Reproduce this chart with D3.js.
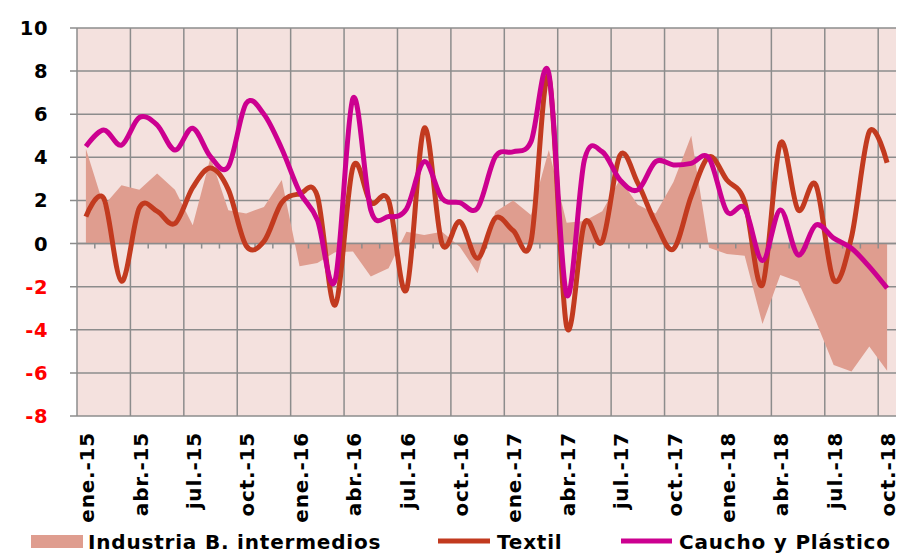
<!DOCTYPE html>
<html>
<head>
<meta charset="utf-8">
<script src="https://cdn.jsdelivr.net/npm/d3@7"></script>
<style>
    body { margin: 0; background: #ffffff; }
    svg text { font-family: "DejaVu Sans", Verdana, sans-serif; font-weight: bold; }
</style>
</head>
<body>
<svg id="chart" width="908" height="555"></svg>
<script>

let month_names = ["ene", "feb", "mar", "abr", "may", "jun", "jul", "ago", "sep", "oct", "nov", "dic"]
let years = ["15", "16", "17", "18"]
let month_count = 46

let industria = [4.4, 1.75, 2.7, 2.5, 3.25, 2.5, 0.85, 4.0, 1.55, 1.4, 1.7, 2.95,
    -1.05, -0.9, -0.4, -0.37, -1.53, -1.15, 0.55, 0.4, 0.55, -0.15, -1.38, 1.48,
    2.0, 1.33, 4.34, 0.96, 1.05, 1.5, 3.0, 1.8, 1.4, 2.85, 5.0, -0.2,
    -0.48, -0.57, -3.73, -1.46, -1.76, -3.6, -5.63, -5.94, -4.78, -5.9]

let textil = [1.25, 2.1, -1.75, 1.65, 1.5, 0.93, 2.6, 3.5, 2.5, -0.1, 0.1, 1.9,
    2.3, 2.2, -2.85, 3.55, 1.9, 2.0, -2.15, 5.35, 0.0, 1.02, -0.68, 1.19,
    0.6, 0.1, 7.74, -3.85, 0.94, 0.09, 4.1, 2.8, 0.95, -0.25, 2.2, 4.03,
    2.95, 1.94, -1.92, 4.65, 1.56, 2.72, -1.69, 0.3, 5.19, 3.75]

let caucho = [4.5, 5.27, 4.57, 5.85, 5.5, 4.34, 5.35, 4.03, 3.57, 6.5, 6.0, 4.4,
    2.4, 1.1, -1.69, 6.74, 1.56, 1.25, 1.6, 3.8, 2.1, 1.9, 1.65, 4.03,
    4.26, 4.73, 7.9, -2.38, 3.88, 4.26, 2.95, 2.49, 3.8, 3.65, 3.72, 3.96,
    1.48, 1.64, -0.79, 1.56, -0.53, 0.86, 0.25, -0.22, -1.07, -2.07]

let y_ticks = [-8, -6, -4, -2, 0, 2, 4, 6, 8, 10]

let legend_names = ["Industria B. intermedios", "Textil", "Caucho y Plástico"]

let colors = {
    background: "#f4e1de",
    grid: "#8c8c8c",
    area: "#df9d8f",
    textil: "#c23a1f",
    caucho: "#cc0090"
}

let months = []
for (let i = 0; i < month_count; i++) {
    months.push(month_names[i % 12] + ".-" + years[Math.floor(i / 12)])
}

let plot_left = 77, plot_right = 896, plot_top = 28, plot_bottom = 416

let svg = d3.select("#chart")

let x = d3.scaleBand().domain(months).range([plot_left, plot_right]).padding(0)
let y = d3.scaleLinear().domain([-8, 10]).range([plot_bottom, plot_top])

let center = (d) => x(d) + x.bandwidth() / 2

svg.append("rect")
    .attr("x", plot_left).attr("y", plot_top)
    .attr("width", plot_right - plot_left).attr("height", plot_bottom - plot_top)
    .attr("fill", colors.background)

// horizontal grid
svg.append("g")
    .selectAll("line")
    .data(y_ticks)
    .join("line")
    .attr("x1", plot_left - 7).attr("x2", plot_right)
    .attr("y1", (d) => y(d)).attr("y2", (d) => y(d))
    .attr("stroke", colors.grid).attr("stroke-width", 1.5)

// vertical grid every 3 months
let boundaries = d3.range(0, month_count, 3).map((i) => x(months[i]))
svg.append("g")
    .selectAll("line")
    .data(boundaries)
    .join("line")
    .attr("x1", (d) => d).attr("x2", (d) => d)
    .attr("y1", plot_top).attr("y2", plot_bottom)
    .attr("stroke", colors.grid).attr("stroke-width", 1.5)

// area
let area = d3.area()
    .x((d, i) => center(months[i]))
    .y0(y(0))
    .y1((d) => y(d))

svg.append("path")
    .datum(industria)
    .attr("d", area)
    .attr("fill", colors.area)

// zero axis with small ticks every month
svg.append("line")
    .attr("x1", plot_left).attr("x2", plot_right)
    .attr("y1", y(0)).attr("y2", y(0))
    .attr("stroke", colors.grid).attr("stroke-width", 1.5)

svg.append("g")
    .selectAll("line")
    .data(months.slice(1))
    .join("line")
    .attr("x1", (d) => x(d)).attr("x2", (d) => x(d))
    .attr("y1", y(0)).attr("y2", y(0) + 5)
    .attr("stroke", colors.grid).attr("stroke-width", 1.5)

// lines
let line = d3.line()
    .x((d, i) => center(months[i]))
    .y((d) => y(d))
    .curve(d3.curveCardinal.tension(0))

svg.append("path")
    .datum(textil)
    .attr("d", line)
    .attr("fill", "none")
    .attr("stroke", colors.textil)
    .attr("stroke-width", 5)
    .attr("stroke-linejoin", "round")

svg.append("path")
    .datum(caucho)
    .attr("d", line)
    .attr("fill", "none")
    .attr("stroke", colors.caucho)
    .attr("stroke-width", 5)
    .attr("stroke-linejoin", "round")

// y labels
svg.append("g")
    .selectAll("text")
    .data(y_ticks)
    .join("text")
    .attr("x", 48)
    .attr("y", (d) => y(d))
    .attr("dy", "0.36em")
    .attr("text-anchor", "end")
    .attr("font-size", 19.5)
    .attr("letter-spacing", 0.5)
    .attr("fill", (d) => d < 0 ? "#ff0000" : "#000000")
    .text((d) => d)

// x labels
svg.append("g")
    .selectAll("text")
    .data(months.filter((d, i) => i % 3 == 0))
    .join("text")
    .attr("transform", (d) => `translate(${center(d) + 1},432) rotate(-90)`)
    .attr("dy", "0.36em")
    .attr("text-anchor", "end")
    .attr("font-size", 20)
    .attr("letter-spacing", 0.8)
    .attr("fill", "#000000")
    .text((d) => d)

// legend
let legend = svg.append("g").attr("font-size", 20).attr("letter-spacing", 0.8).attr("fill", "#000000")

legend.append("rect")
    .attr("x", 31).attr("y", 535).attr("width", 52).attr("height", 13)
    .attr("fill", colors.area)
legend.append("text").attr("x", 88).attr("y", 549).text(legend_names[0])

legend.append("line")
    .attr("x1", 438).attr("x2", 490).attr("y1", 541).attr("y2", 541)
    .attr("stroke", colors.textil).attr("stroke-width", 5)
legend.append("text").attr("x", 497).attr("y", 549).text(legend_names[1])

legend.append("line")
    .attr("x1", 621).attr("x2", 672).attr("y1", 541).attr("y2", 541)
    .attr("stroke", colors.caucho).attr("stroke-width", 5)
legend.append("text").attr("x", 679).attr("y", 549).text(legend_names[2])

</script>
</body>
</html>
